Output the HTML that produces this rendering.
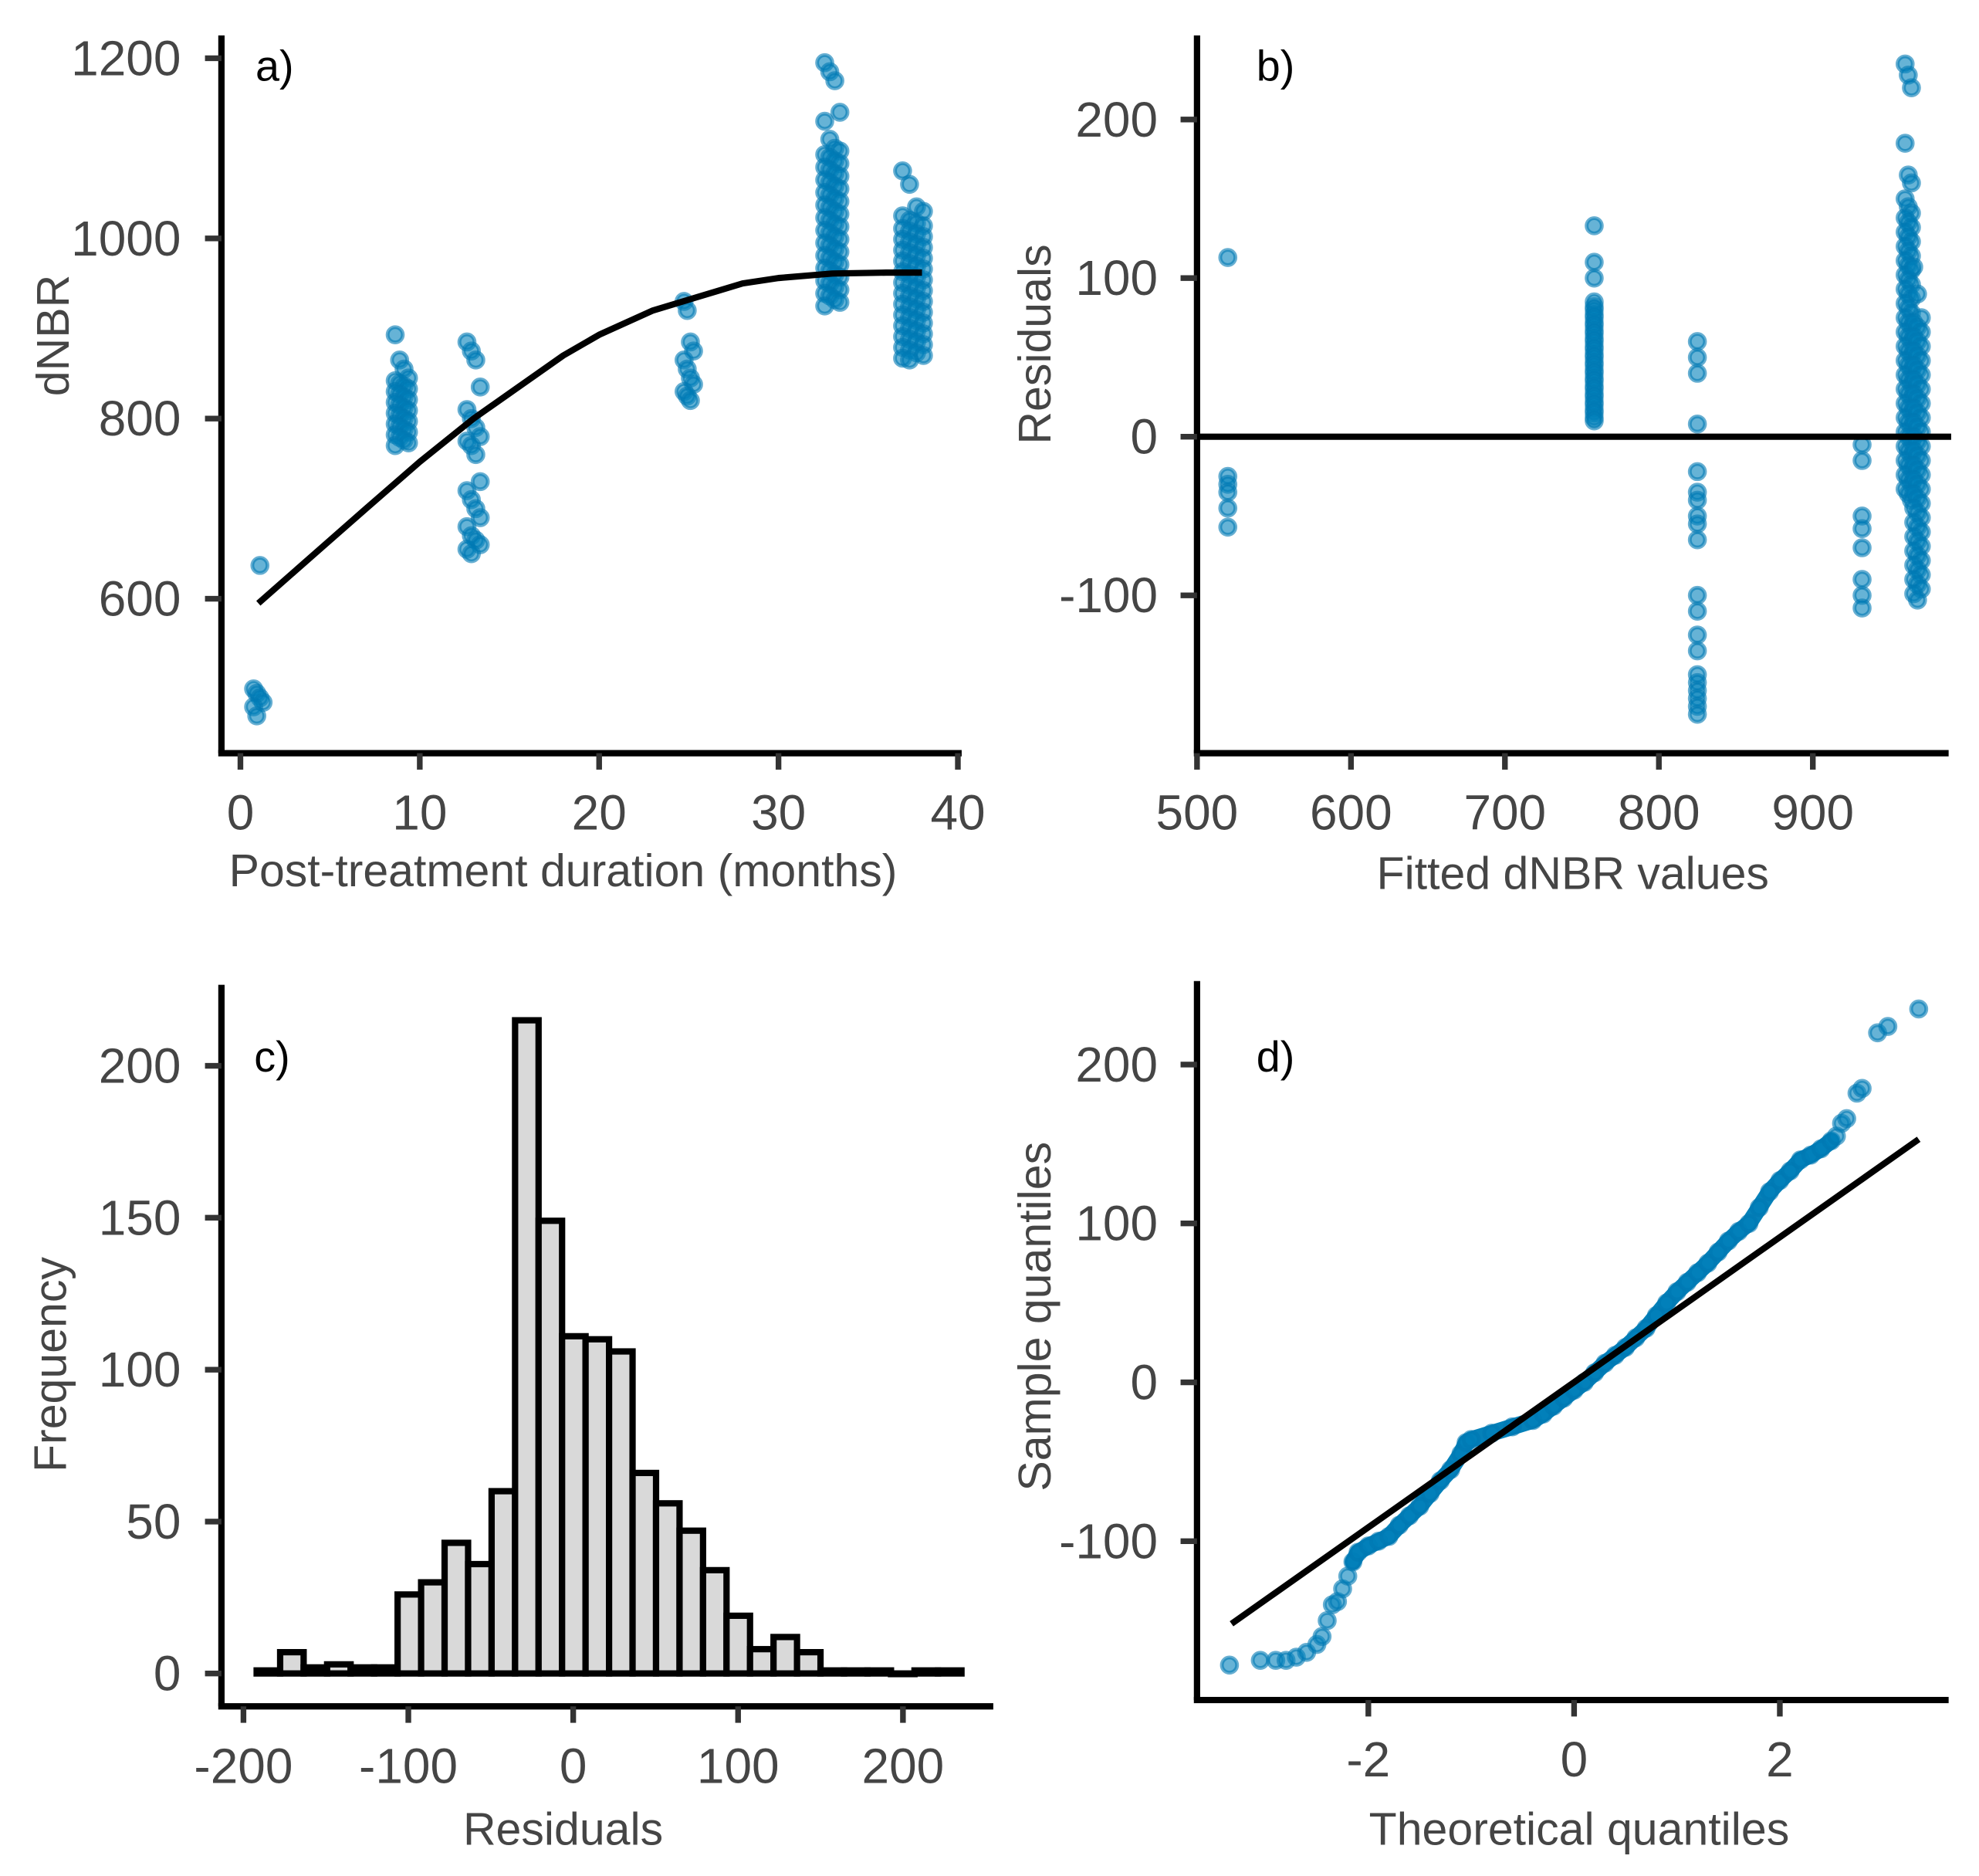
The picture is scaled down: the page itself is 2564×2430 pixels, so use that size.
<!DOCTYPE html>
<html><head><meta charset="utf-8"><style>
html,body{margin:0;padding:0;background:#fff}
svg{display:block}
.tk{font-family:"Liberation Sans",sans-serif;font-size:39px;fill:#454545}
.ti{font-family:"Liberation Sans",sans-serif;font-size:36px;fill:#454545}
.pl{font-family:"Liberation Sans",sans-serif;font-size:34px;fill:#000}
</style></head><body>
<svg id="fig" width="2564" height="2430" viewBox="0 0 1564 1482" preserveAspectRatio="none" xmlns="http://www.w3.org/2000/svg"></svg>
<script>
// ---- Panel a data ----
const aMonths=[1,9,13,25,33,37.5];
const aValues=[
 [500,495,490,485,480,470,637],
 [893,865,855,845,842,839,836,833,830,827,824,821,818,815,812,809,806,803,800,797,794,791,788,785,782,779,776,773,770],
 [885,875,865,835,810,800,790,780,775,770,760,730,720,710,700,690,680,670,665,660,655,650],
 [930,920,885,875,865,855,845,838,830,825,820],
 [1195,1185,1175,1140,1130,1110,1100,1097,1093,1090,1086,1083,1079,1076,1072,1069,1065,1062,1058,1055,1051,1048,1044,1041,1037,1034,1030,1027,1023,1020,1016,1013,1009,1006,1002,999,995,992,988,985,981,978,974,971,967,964,960,957,953,950,946,943,939,936,932,929,925],
 [1075,1060,1035,1030,1025,1020,1017,1014,1011,1008,1005,1002,999,996,993,990,987,984,981,978,975,972,969,966,963,960,957,954,951,948,945,942,939,936,933,930,927,924,921,918,915,912,909,906,903,900,897,894,891,888,885,882,879,876,873,870,867,865]
];
const aCurveX=[1,3,5,7,10,13,15,18,20,23,25,28,30,33,36,38];
const aCurveY=[595,630,665,700,752,800,828,870,893,920,932,950,956,961,962,962];
const aXTicks=[0,10,20,30,40];
const aYTicks=[600,800,1000,1200];
// ---- Panel b data ----
const bFitted=[520,758,825,932,962,968];
const bResid=[
 [113,-25,-30,-35,-45,-57],
 [133,110,100,85,82,80,77,75,72,70,67,65,62,60,57,55,52,50,47,45,42,40,37,35,32,30,27,25,22,20,17,15,12,10],
 [60,50,40,8,-22,-35,-40,-50,-55,-65,-100,-110,-125,-135,-150,-155,-160,-165,-170,-175],
 [-5,-15,-50,-58,-70,-90,-100,-108],
 [235,228,220,185,165,160,150,145,141,138,135,132,129,126,123,120,117,114,111,108,105,102,99,96,93,90,87,84,81,78,75,72,69,66,63,60,57,54,51,48,45,42,39,36,33,30,27,24,21,18,15,12,9,6,3,0,-3,-6,-9,-12,-15,-18,-21,-24,-27,-30,-33,-36,-40],
 [107,90,75,72,69,66,63,60,57,54,51,48,45,42,39,36,33,30,27,24,21,18,15,12,9,6,3,0,-3,-6,-9,-12,-15,-18,-21,-24,-27,-30,-33,-36,-39,-42,-45,-48,-51,-54,-57,-60,-63,-66,-69,-72,-75,-78,-81,-84,-87,-90,-93,-96,-99,-103]
];
const bXTicks=[500,600,700,800,900];
const bYTicks=[-100,0,100,200];
// ---- Panel c data ----
const cBinStart=-192, cBinWidth=14.25;
const cCounts=[1,7,2,3,2,2,26,30,43,36,60,215,149,111,110,106,66,56,47,34,19,8,12,7,1,1,1,0,1,1];
const cXTicks=[-200,-100,0,100,200];
const cYTicks=[0,50,100,150,200];
// ---- Panel d data ----
const dTheo=[-3.35,-3.05,-2.9,-2.8,-2.7,-2.6,-2.5,-2.45,-2.4,-2.35,-2.3,-2.25,-2.2,-2.15,-2.1,-2.0,-1.9,-1.8,-1.7,-1.6,-1.5,-1.4,-1.3,-1.2,-1.1,-1.05,-1.0,-0.8,-0.6,-0.4,-0.3,-0.2,-0.1,0,0.1,0.2,0.3,0.4,0.5,0.6,0.7,0.8,0.9,1.0,1.1,1.2,1.3,1.4,1.5,1.6,1.7,1.8,1.9,2.0,2.1,2.2,2.3,2.4,2.5,2.55,2.6,2.65,2.75,2.8,2.95,3.05,3.35];
const dSample=[-178,-175,-175,-175,-173,-170,-165,-160,-150,-140,-138,-130,-122,-113,-107,-103,-100,-97,-90,-84,-78,-70,-62,-55,-45,-38,-36,-32,-28,-24,-20,-15,-10,-5,0,6,12,17,22,28,34,42,50,57,63,69,75,82,89,95,100,110,120,127,133,140,143,147,152,155,163,166,182,185,220,224,235];
const dLine=[[-3.33,-152],[3.35,153]];
const dXTicks=[-2,0,2];
const dYTicks=[-100,0,100,200];

const NS="http://www.w3.org/2000/svg";
const svg=document.getElementById('fig');
function mk(tag,attrs,parent){const e=document.createElementNS(NS,tag);for(const k in attrs)e.setAttribute(k,attrs[k]);(parent||svg).appendChild(e);return e;}
function txt(s,x,y,cls,anchor,rot){const t=mk('text',{x:x,y:y,class:cls,'text-anchor':anchor||'middle','dominant-baseline':'central'});if(rot)t.setAttribute('transform','rotate(-90 '+x+' '+y+')');t.textContent=s;return t;}
function pt(g,x,y){const c=mk('circle',{cx:x,cy:y,r:6,fill:'rgba(0,128,186,0.6)',stroke:'rgba(0,120,178,0.6)','stroke-width':3},g);

}
function axes(g,x0,x1,y0,y1){mk('line',{x1:x0,y1:y0,x2:x0,y2:y1,stroke:'#000','stroke-width':5},g);mk('line',{x1:x0-2.5,y1:y1,x2:x1,y2:y1,stroke:'#000','stroke-width':5},g);}
function yticks(g,ticks,f,ax,lx){ticks.forEach(v=>{mk('line',{x1:ax-13,y1:f(v),x2:ax,y2:f(v),stroke:'#333','stroke-width':4.5},g);const t=txt(String(v),lx,f(v),'tk','end');

});}
function xticks(g,ticks,f,ay,ly){ticks.forEach(v=>{mk('line',{x1:f(v),y1:ay,x2:f(v),y2:ay+13,stroke:'#333','stroke-width':4.5},g);const t=txt(String(v),f(v),ly,'tk','middle');

});}

// Panel a
const xa=m=>190+m*14.175, ya=v=>473-(v-600)*0.7117;
const aJit=[2.5,3.5,3.5,2.5,4,5.5];
const ga=mk('g',{});


aMonths.forEach((m,gi)=>aValues[gi].forEach((v,i)=>{const j=((i%4)-1.5)*aJit[gi];pt(ga,xa(m)+j,ya(v));}));
mk('path',{d:aCurveX.map((m,i)=>(i?'L':'M')+xa(m)+' '+ya(aCurveY[i])).join(' '),fill:'none',stroke:'#000','stroke-width':5,'stroke-linejoin':'round'},ga);
axes(ga,175,760,28,595);
yticks(ga,aYTicks,ya,175,143);xticks(ga,aXTicks,xa,595,642);
txt('Post-treatment duration (months)',445,688,'ti');
txt('dNBR',42,265,'ti','middle',true);
txt('a)',217,52,'pl');

// Panel b
const xb=f=>946+(f-500)*1.2167, yb=r=>345-r*1.253;
const bJit=[0,0,0,0,2.5,3];
const gb=mk('g',{});


bFitted.forEach((f,gi)=>bResid[gi].forEach((r,i)=>{const j=((i%3)-1)*bJit[gi];pt(gb,xb(f)+j,yb(r));}));
axes(gb,946,1540,28,595);
mk('line',{x1:946,y1:yb(0),x2:1542,y2:yb(0),stroke:'#000','stroke-width':5},gb);
yticks(gb,bYTicks,yb,946,915);xticks(gb,bXTicks,xb,595,642);
txt('Fitted dNBR values',1243,690,'ti');
txt('Residuals',818,272,'ti','middle',true);
txt('b)',1008,52,'pl');

// Panel c
const xc=r=>453+r*1.303, yc=n=>1322-n*2.4;
const gc=mk('g',{});


cCounts.forEach((n,i)=>{const x0=xc(cBinStart+i*cBinWidth),x1=xc(cBinStart+(i+1)*cBinWidth);const r=mk('rect',{x:x0,y:yc(n),width:x1-x0,height:Math.max(yc(0)-yc(n),0.5),fill:'#d9d9d9',stroke:'#000','stroke-width':5},gc);

});
axes(gc,175,785,778,1348);
yticks(gc,cYTicks,yc,175,143);xticks(gc,cXTicks,xc,1348,1395);
txt('Residuals',445,1445,'ti');
txt('Frequency',40,1078,'ti','middle',true);
txt('c)',215,835,'pl');

// Panel d
const xd=t=>1244+t*81.3, yd=s=>1092-s*1.255;
const gd=mk('g',{});


const band=dTheo.map((t,i)=>[t,dSample[i]]).filter(p=>p[0]>=-2.15&&p[0]<=2.5);
mk('path',{d:band.map((p,i)=>(i?'L':'M')+xd(p[0])+' '+yd(p[1])).join(' '),fill:'none',stroke:'#0581b9','stroke-width':13,'stroke-linecap':'round','stroke-linejoin':'round'},gd);
dTheo.forEach((t,i)=>pt(gd,xd(t),yd(dSample[i])));
mk('line',{x1:xd(dLine[0][0]),y1:yd(dLine[0][1]),x2:xd(dLine[1][0]),y2:yd(dLine[1][1]),stroke:'#000','stroke-width':5},gd);
axes(gd,946,1540,775,1343);
yticks(gd,dYTicks,yd,946,915);xticks(gd,dXTicks,xd,1343,1390);
txt('Theoretical quantiles',1248,1445,'ti');
txt('Sample quantiles',818,1040,'ti','middle',true);
txt('d)',1008,835,'pl');
</script>
</body></html>
